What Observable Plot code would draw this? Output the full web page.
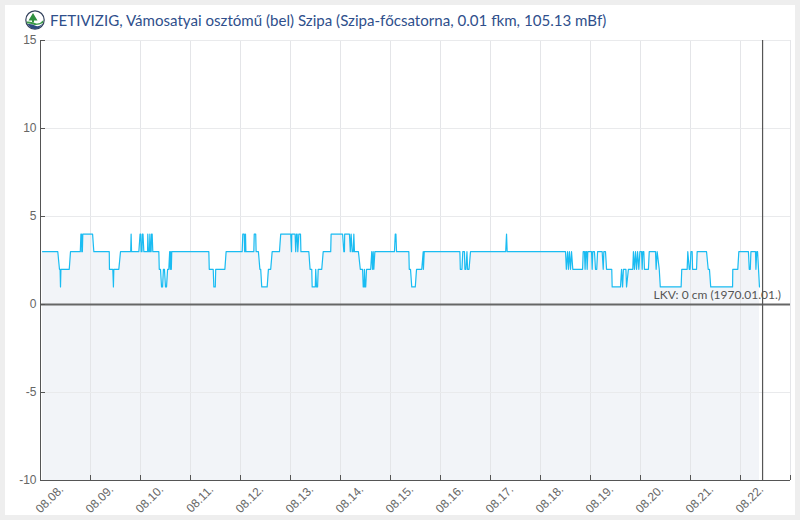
<!DOCTYPE html>
<html><head><meta charset="utf-8">
<script src="https://cdn.jsdelivr.net/npm/d3@7"></script>
<script src="https://cdn.jsdelivr.net/npm/@observablehq/plot@0.6"></script>
<style>
html,body{margin:0;padding:0;background:#eeeeee;width:800px;height:520px;overflow:hidden}
#panel{position:absolute;left:5px;top:5px;width:790px;height:510px;background:#fff;overflow:hidden}
#title{height:25px;display:flex;align-items:flex-end;padding-left:20px;font:15.1px Lato,sans-serif;color:#2f4f8c;white-space:nowrap}
#title svg{margin-right:5px;flex:none}
#title span{position:relative;top:-1px}
#chart svg{display:block}
</style></head><body>
<div id="panel">
<div id="title"><svg width="20" height="20" viewBox="0 0 20 20"><circle cx="10" cy="10" r="9.2" fill="#fff" stroke="#33415c" stroke-width="1.2"/><path d="M8 3 L12.5 10.5 L9 10.5 L9 12.5 L7 12.5 L7 10.5 L3.5 10.5Z" fill="#2f8f3f"/><path d="M1.5 11.5 Q6 11 10 13 T18.5 10 L18 13 Q12 16 8 14.5 T2 13.5Z" fill="#3c9a4a"/><path d="M2.6 14 Q7 13.5 10 15.5 T17.4 14 Q14.5 19 10 19 Q5.5 19 2.6 14Z" fill="#2c4a80"/></svg><span>FETIVIZIG, Vámosatyai osztómű (bel) Szipa (Szipa-főcsatorna, 0.01 fkm, 105.13 mBf)</span></div>
<div id="chart"></div>
</div>
<script>
const startDay = Date.UTC(2023, 7, 8);
// [hours since 08.08. 00:00, water level]
const readings = [
[1,3],[8.3,3],[9.1,2],[9.4,2],[9.6,1],[9.8,2],[13.8,2],[14.4,3],[19.1,3],[19.4,4],[19.7,4],[19.8,3],[20.1,3],[20.3,4],[25,4],[25.6,3],
[33,3],[33.1,2],[34.7,2],[35,1],[35.2,2],[37.6,2],[38.4,3],[43.3,3],[43.5,4],[43.7,3],[47.2,3],[47.8,4],[48.1,4],[48.3,3],[48.7,3],[48.9,4],[49.2,4],[49.6,3],
[51.4,3],[51.5,4],[51.8,3],[52.3,3],[52.5,4],[52.8,3],[53.1,3],[53.3,4],[53.6,4],[53.9,3],[56.8,3],[57,2],[57.6,2],[58.1,1],[58.6,1],[59,2],[59.5,2],[60,1],[60.5,1],[61,2],[61.6,2],[62,3],[62.3,2],[62.5,3],[62.8,2],[63,3],
[80.8,3],[81,2],[82.9,2],[83.2,1],[83.9,1],[84.1,2],[88.5,2],[89.1,3],[96.8,3],[97.1,4],[97.8,4],[98,3],[98.3,3],[98.4,4],[98.6,3],[102.4,3],[102.6,4],[103.3,4],[103.5,3],[104.6,3],[105.3,2],[105.7,2],[106.2,1],[108.8,1],[109.4,2],[110.5,2],[111.2,3],[114.7,3],[115.3,4],
[120.1,4],[120.5,3],[120.6,4],[122.2,4],[122.5,3],[122.9,4],[123.2,4],[123.5,3],[124,4],[124.8,4],[125,3],[128.8,3],[129.4,2],[130.2,2],[130.4,1],[131.9,1],[132.1,2],[132.5,1],[133,1],[133.3,2],[135,2],[135.7,3],[139.3,3],[139.5,4],
[145,4],[145.6,3],[145.9,3],[146,4],[148.3,4],[148.7,3],[149.1,4],[149.6,3],[150.1,3],[150.4,4],[150.7,3],[152.6,3],[153.5,2],[154.6,2],[154.9,1],[155.3,1],[155.5,2],[155.8,1],[156.1,1],[156.5,2],[158.5,2],[159,3],[159.4,2],[159.7,3],[160,2],[160.5,3],
[169.9,3],[170.3,4],[170.6,4],[170.9,3],[176.8,3],[177,2],[177.6,2],[178.2,1],[179.9,1],[180.5,2],[183,2],[183.7,3],[183.8,2],[184.2,3],
[201.3,3],[201.5,2],[202.3,2],[202.7,3],[203.5,3],[203.7,2],[204.2,2],[204.7,3],[205,2],[205.7,2],[206.4,3],[223.3,3],[223.7,4],[224,3],
[252,3],[252.4,2],[253,3],[253.4,2],[253.9,3],[254.4,2],[254.9,3],[255.5,2],[260.2,2],[260.5,3],[261.1,3],[261.4,2],[261.7,3],[262.1,3],[262.4,2],[262.7,3],[264.5,3],[264.8,2],[265.1,3],[265.9,3],[266.4,2],[267,2],[267.4,3],[269.6,3],[270.1,2],[270.4,3],[271.2,3],[271.7,2],
[274.2,2],[274.4,1],[278.4,1],[278.9,2],[279.4,1],[279.8,2],[281,2],[281.3,1],[282.2,2],[284.3,2],[284.6,3],[285.1,2],[285.6,3],[286.1,2],[286.6,3],[287.2,2],[287.7,3],[288.5,3],[288.8,2],[289.1,3],[289.6,3],[289.9,2],[291.8,2],[292.2,3],[295.2,3],[295.5,2],[296,3],[297,2],[297.5,1],
[307.5,1],[307.8,2],[310.4,2],[310.7,3],[311.4,2],[311.8,2],[312.2,3],[312.8,3],[313,2],[314.9,2],[315.2,3],[319.7,3],[320.5,2],[321.1,2],[321.7,1],[332.2,1],[332.3,2],[334.7,2],[335.2,3],[339.8,3],[340.2,2],[340.7,2],[341,3],[343.2,3],[343.4,2],[343.8,3],[344.2,3],[345.1,1]
];
const dayLabels = ["08.08.","08.09.","08.10.","08.11.","08.12.","08.13.","08.14.","08.15.","08.16.","08.17.","08.18.","08.19.","08.20.","08.21.","08.22.",""];
const yTicks = [-10,-5,0,5,10,15];
const nowHours = 346.6;
const lkvLabel = "LKV: 0 cm (1970.01.01.)";

const hour = 3600000;
const dayTicks = dayLabels.map((_, i) => new Date(startDay + i * 24 * hour));
const series = readings.map(([h, v]) => ({t: new Date(startDay + h * hour), v}));
const labelOf = d => dayLabels[dayTicks.findIndex(t => +t === +d)];
const axisColor = "#555";

const plot = Plot.plot({
  width: 790, height: 485,
  marginLeft: 35, marginRight: 5, marginTop: 10, marginBottom: 35,
  style: {fontFamily: "'Liberation Sans',Arial,sans-serif", fontSize: "12px", background: "transparent", overflow: "visible"},
  x: {type: "utc", domain: [dayTicks[0], dayTicks[15]]},
  y: {domain: [-10, 15]},
  marks: [
    Plot.areaY(series, {x: "t", y1: -10, y2: "v", fill: "#f2f4f8"}),
    Plot.gridX(dayTicks, {stroke: "#e4e5e8", strokeOpacity: 1, strokeWidth: 1}),
    Plot.gridY(yTicks, {stroke: "#e9eaec", strokeOpacity: 1, strokeWidth: 1}),
    Plot.line(series, {x: "t", y: "v", stroke: "#1abcf2", strokeWidth: 1.2, curve: "linear"}),
    Plot.ruleY([0], {stroke: "#666", strokeWidth: 2}),
    Plot.ruleX([new Date(startDay + nowHours * hour)], {stroke: "#555", strokeWidth: 1.2}),
    Plot.text([lkvLabel], {x: dayTicks[15], y: 0, dx: -9.5, dy: -9, textAnchor: "end", fill: "#555", fontSize: 12, fontFamily: "Lato,sans-serif"}),
    Plot.ruleX([dayTicks[0]], {stroke: axisColor, strokeWidth: 1}),
    Plot.ruleY([-10], {stroke: axisColor, strokeWidth: 1}),
    Plot.axisY({ticks: yTicks, anchor: "left", tickSize: -5, tickPadding: 9, stroke: axisColor, fill: "#666", fontSize: 12, label: null, tickFormat: d => String(d)}),
    Plot.axisX({ticks: dayTicks, anchor: "bottom", tickSize: -5, tickFormat: () => "", stroke: axisColor, label: null}),
    Plot.text(dayTicks, {x: d => d, y: -10, text: labelOf, rotate: -45, textAnchor: "end", lineAnchor: "middle", dx: 21, dy: 7, fill: "#666", fontSize: 12})
  ]
});
document.getElementById("chart").appendChild(plot);
</script>
</body></html>
